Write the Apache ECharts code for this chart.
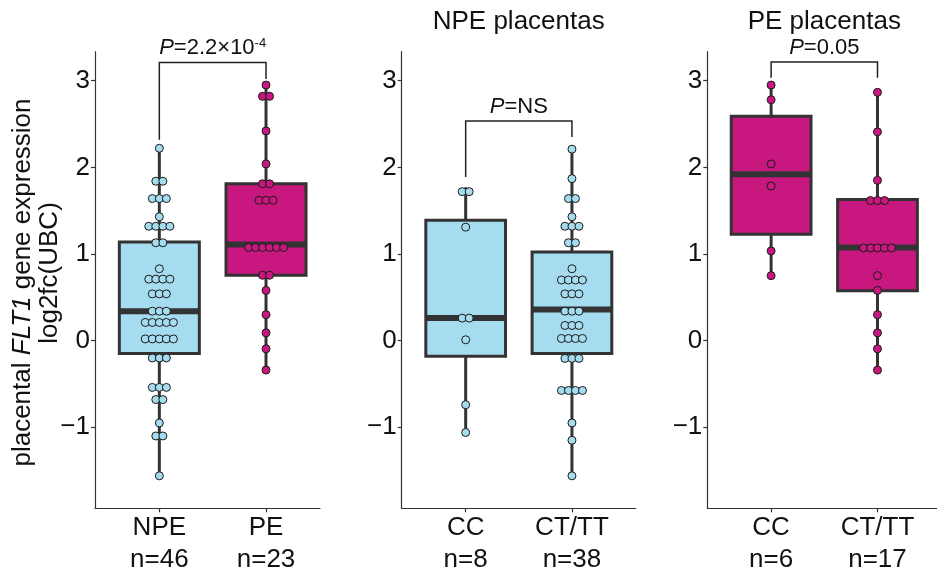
<!DOCTYPE html>
<html><head><meta charset="utf-8">
<script src="https://cdn.jsdelivr.net/npm/echarts@6/dist/echarts.min.js"></script>
<style>html,body{margin:0;padding:0;background:#fff}#c{width:937px;height:572px}</style>
</head><body><div id="c"></div>
<script>
const FONT = "'Liberation Sans', Arial, sans-serif";

// ---- text ----
const panelTitles = ['', 'NPE placentas', 'PE placentas'];
const categories = [['NPE', 'PE'], ['CC', 'CT/TT'], ['CC', 'CT/TT']];
const yTicks = [-1, 0, 1, 2, 3];
const pValues = ['2.2\u00d710|-4', 'NS', '0.05'];

// ---- dot values (log2fc(UBC)) ----
const allNPE = [2.22, 1.84, 1.84, 1.64, 1.64, 1.64, 1.43, 1.32, 1.32, 1.32, 1.32, 1.13, 1.13, 0.83,
  0.71, 0.71, 0.71, 0.71, 0.54, 0.54, 0.54, 0.34, 0.34, 0.34, 0.21, 0.21, 0.21, 0.21, 0.21,
  0.02, 0.02, 0.02, 0.02, 0.02, -0.2, -0.2, -0.2, -0.54, -0.54, -0.54, -0.68, -0.68, -0.95,
  -1.1, -1.1, -1.56];
const allPE = [2.95, 2.82, 2.82, 2.42, 2.04, 1.81, 1.81, 1.62, 1.62, 1.62,
  1.075, 1.075, 1.075, 1.075, 1.075, 1.075, 0.755, 0.755, 0.58, 0.30, 0.09, -0.094, -0.34];
const npeCC = [1.72, 1.72, 1.31, 0.26, 0.26, 0.01, -0.74, -1.06];
const npeCT = [2.21, 1.87, 1.64, 1.64, 1.43, 1.32, 1.32, 1.32, 1.13, 1.13, 0.83,
  0.70, 0.70, 0.70, 0.70, 0.54, 0.54, 0.54, 0.34, 0.34, 0.34, 0.175, 0.175, 0.175,
  0.025, 0.025, 0.025, 0.025, -0.205, -0.205, -0.205, -0.575, -0.575, -0.575, -0.575,
  -0.95, -1.15, -1.56];
const peCC = [2.95, 2.78, 2.04, 1.785, 1.036, 0.75];
const peCT = [2.866, 2.41, 1.85, 1.617, 1.617, 1.617, 1.07, 1.07, 1.07, 1.07, 1.07,
  0.75, 0.58, 0.30, 0.09, -0.094, -0.34];

// ---- box stats [lower whisker, Q1, median, Q3, upper whisker] ----
const boxNPE = [-1.56, -0.148, 0.34, 1.14, 2.22];
const boxPE = [-0.34, 0.755, 1.11, 1.81, 2.95];
const boxNpeCC = [-1.06, -0.18, 0.26, 1.39, 1.77];
const boxNpeCT = [-1.56, -0.148, 0.36, 1.024, 2.21];
const boxPeCC = [0.75, 1.228, 1.92, 2.59, 2.947];
const boxPeCT = [-0.34, 0.575, 1.075, 1.63, 2.866];

// ---- significance brackets [left leg end, bar, right leg end] ----
const brackets = [[2.32, 3.21, 3.02], [1.89, 2.535, 2.35], [3.035, 3.216, 3.035]];

const groups = [[allNPE, allPE], [npeCC, npeCT], [peCC, peCT]];
const boxes = [[boxNPE, boxPE], [boxNpeCC, boxNpeCT], [boxPeCC, boxPeCT]];

const BLUE = '#a6dcef', MAG = '#c8177f';
const fills = [[BLUE, MAG], [BLUE, BLUE], [MAG, MAG]];

const grids = [
  { left: 95, top: 51.7, width: 225, height: 456.6, outerBoundsMode: 'none', containLabel: false },
  { left: 401.7, top: 51.7, width: 234, height: 456.6, outerBoundsMode: 'none', containLabel: false },
  { left: 707.3, top: 51.7, width: 234, height: 456.6, outerBoundsMode: 'none', containLabel: false }
];
const xRanges = [[0.397, 2.506], [0.398, 2.6], [0.4, 2.6]];
const Y_MIN = -1.935, Y_MAX = 3.335;
const DOT_STEP = 0.066;

function swarm(values, center) {
  const counts = {};
  values.forEach(v => { counts[v] = (counts[v] || 0) + 1; });
  const seen = {};
  return values.map(v => {
    const k = counts[v];
    const i = seen[v] || 0;
    seen[v] = i + 1;
    return [center + (i - (k - 1) / 2) * DOT_STEP, v];
  });
}

const minus = v => (v < 0 ? '\u2212' + Math.abs(v) : String(v));
const xAxes = [], yAxes = [], series = [];

for (let p = 0; p < 3; p++) {
  xAxes.push({
    gridIndex: p, type: 'value', min: xRanges[p][0], max: xRanges[p][1],
    axisLine: { show: true, onZero: false, lineStyle: { color: '#333', width: 1.2 } },
    axisTick: { show: true, customValues: [1, 2], length: 4, lineStyle: { color: '#333', width: 1.2 } },
    axisLabel: {
      customValues: [1, 2], margin: 4, fontSize: 26, lineHeight: 32, color: '#111', fontFamily: FONT,
      formatter: v => categories[p][v - 1] + '\nn=' + groups[p][v - 1].length
    },
    splitLine: { show: false }
  });
  yAxes.push({
    gridIndex: p, type: 'value', min: Y_MIN, max: Y_MAX,
    axisLine: { show: true, onZero: false, lineStyle: { color: '#333', width: 1.2 } },
    axisTick: { show: true, customValues: yTicks, length: 4, lineStyle: { color: '#333', width: 1.2 } },
    axisLabel: { customValues: yTicks, margin: 5, fontSize: 26, color: '#111', fontFamily: FONT, formatter: minus },
    splitLine: { show: false }
  });

  // boxes
  series.push({
    type: 'custom', xAxisIndex: p, yAxisIndex: p, z: 2,
    data: boxes[p].map((b, i) => [i + 1].concat(b)),
    renderItem: (params, api) => {
      const x = api.value(0);
      const lo = api.value(1), q1 = api.value(2), md = api.value(3), q3 = api.value(4), hi = api.value(5);
      const hw = 0.375;
      const pLo = api.coord([x, lo]), pHi = api.coord([x, hi]);
      const tl = api.coord([x - hw, q3]), br = api.coord([x + hw, q1]);
      const ml = api.coord([x - hw, md]), mr = api.coord([x + hw, md]);
      return {
        type: 'group', children: [
          { type: 'line', shape: { x1: pLo[0], y1: pLo[1], x2: pHi[0], y2: pHi[1] }, style: { stroke: '#333', lineWidth: 3 } },
          { type: 'rect', shape: { x: tl[0], y: tl[1], width: br[0] - tl[0], height: br[1] - tl[1] },
            style: { fill: fills[p][params.dataIndex], stroke: '#333', lineWidth: 3 } },
          { type: 'line', shape: { x1: ml[0], y1: ml[1], x2: mr[0], y2: mr[1] }, style: { stroke: '#333', lineWidth: 6 } }
        ]
      };
    }
  });

  // dots
  groups[p].forEach((vals, gi) => {
    series.push({
      type: 'scatter', xAxisIndex: p, yAxisIndex: p, z: 3,
      symbol: 'circle', symbolSize: 8,
      itemStyle: { color: fills[p][gi], borderColor: '#1a1a1a', borderWidth: 1, opacity: 1 },
      data: swarm(vals, gi + 1),
      silent: true
    });
  });

  // bracket
  const parts = pValues[p].split('|');
  const labelText = '{i|P}{n|=' + parts[0] + '}' + (parts[1] ? '{s|' + parts[1] + '}' : '');
  series.push({
    type: 'custom', xAxisIndex: p, yAxisIndex: p, z: 4,
    data: [[1, 2].concat(brackets[p])],
    renderItem: (params, api) => {
      const x1 = api.value(0), x2 = api.value(1);
      const a = api.coord([x1, api.value(2)]), b = api.coord([x1, api.value(3)]);
      const c = api.coord([x2, api.value(3)]), d = api.coord([x2, api.value(4)]);
      return {
        type: 'group', children: [
          { type: 'polyline', shape: { points: [a, b, c, d] }, style: { stroke: '#222', lineWidth: 1.5, fill: null } },
          { type: 'text', x: (b[0] + c[0]) / 2, y: b[1] - 3, style: {
              text: labelText, align: 'center', verticalAlign: 'bottom', fill: '#111',
              fontSize: 22, fontFamily: FONT,
              rich: {
                i: { fontStyle: 'italic', fontSize: 22, fontFamily: FONT, fill: '#111' },
                n: { fontSize: 22, fontFamily: FONT, fill: '#111' },
                s: { fontSize: 13, fontFamily: FONT, fill: '#111', verticalAlign: 'top', padding: [0, 0, 10, 0] }
              }
            } }
        ]
      };
    }
  });
}

const graphic = [
  { type: 'text', x: 23, y: 282.5, rotation: Math.PI / 2,
    style: { text: 'placental {i|FLT1} gene expression', align: 'center', verticalAlign: 'middle',
      fontSize: 26, fontFamily: FONT, fill: '#111',
      rich: { i: { fontStyle: 'italic', fontSize: 26, fontFamily: FONT, fill: '#111' } } } },
  { type: 'text', x: 50, y: 273, rotation: Math.PI / 2,
    style: { text: 'log2fc(UBC)', align: 'center', verticalAlign: 'middle', fontSize: 26, fontFamily: FONT, fill: '#111' } }
];
[1, 2].forEach(p => {
  graphic.push({ type: 'text', x: grids[p].left + grids[p].width / 2, y: 22,
    style: { text: panelTitles[p], align: 'center', verticalAlign: 'middle', fontSize: 26, fontFamily: FONT, fill: '#111' } });
});

const chart = echarts.init(document.getElementById('c'), null, { renderer: 'canvas' });
chart.setOption({
  animation: false,
  backgroundColor: '#fff',
  grid: grids,
  xAxis: xAxes,
  yAxis: yAxes,
  series: series,
  graphic: graphic
});
</script></body></html>
